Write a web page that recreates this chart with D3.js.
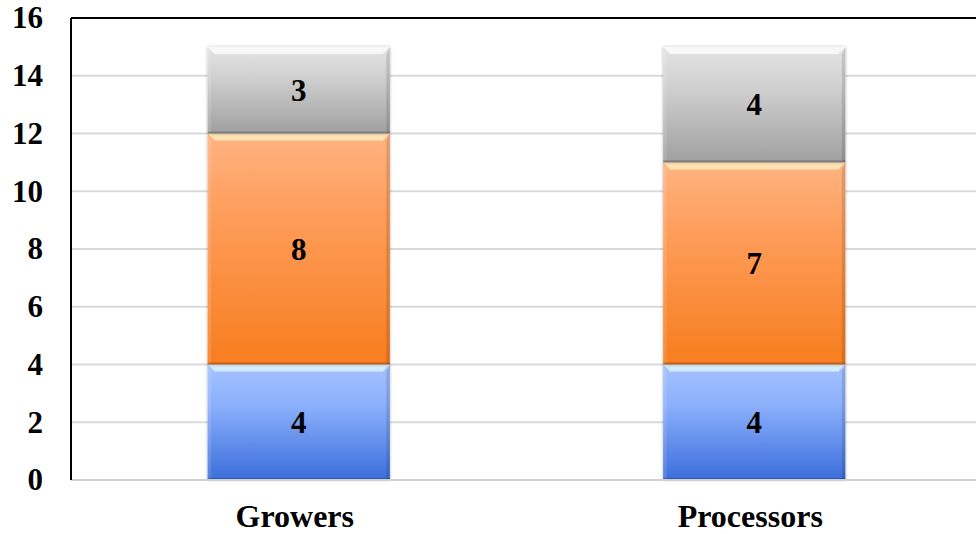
<!DOCTYPE html>
<html>
<head>
<meta charset="utf-8">
<script src="https://cdn.jsdelivr.net/npm/d3@7"></script>
<style>
  html, body { margin: 0; padding: 0; background: #fff; }
  svg { display: block; }
</style>
</head>
<body>
<div id="chart"></div>
<script>
// chart values
var categories = ["Growers", "Processors"];
var seriesNames = ["bottom", "middle", "top"];
var bottomValues = [4, 4];
var middleValues = [8, 7];
var topValues = [3, 4];
var yTicks = [0, 2, 4, 6, 8, 10, 12, 14, 16];

var W = 976, H = 534;
var margin = { top: 18, right: -6, bottom: 54, left: 71 };
var width = W - margin.left - margin.right,
    height = H - margin.top - margin.bottom;

var svg = d3.select("#chart").append("svg").attr("width", W).attr("height", H);
var defs = svg.append("defs");

function serif(sel, size) {
  sel.style("font-family", "Liberation Serif")
    .style("font-weight", "bold").style("font-size", size + "px").attr("fill", "#000");
}

// gradients for the three series: top, mid, bottom colour + bevel highlight
var grads = {
  bottom: ["#a4c2ff", "#8cb0fc", "#3b6edb", "#e4fbff"],
  middle: ["#ffb382", "#fe9d5a", "#f77d1f", "#fff3c4"],
  top: ["#e4e4e4", "#d0d0d0", "#a0a0a0", "#ffffff"]
};
Object.keys(grads).forEach(function (k) {
  var g = defs.append("linearGradient").attr("id", "g-" + k)
    .attr("x1", 0).attr("y1", 0).attr("x2", 0).attr("y2", 1);
  g.append("stop").attr("offset", "0%").attr("stop-color", grads[k][0]);
  g.append("stop").attr("offset", "35%").attr("stop-color", grads[k][1]);
  g.append("stop").attr("offset", "100%").attr("stop-color", grads[k][2]);
});
var shadow = defs.append("filter").attr("id", "shadow")
  .attr("x", "-10%").attr("y", "-10%").attr("width", "120%").attr("height", "120%");
shadow.append("feDropShadow").attr("dx", 0).attr("dy", 0).attr("stdDeviation", 1.5)
  .attr("flood-color", "#000").attr("flood-opacity", 0.3);

var g = svg.append("g").attr("transform", "translate(" + margin.left + "," + margin.top + ")");

var x = d3.scaleBand().domain(categories).range([0, width]).paddingInner(0.6).paddingOuter(0.3);
var y = d3.scaleLinear().domain([0, 16]).range([height, 0]);

// gridlines
g.append("g").selectAll("line").data(yTicks.filter(function (d) { return d > 0 && d < 16; }))
  .enter().append("line")
  .attr("x1", 0).attr("x2", width)
  .attr("y1", function (d) { return y(d); }).attr("y2", function (d) { return y(d); })
  .attr("stroke", "#d9d9d9").attr("stroke-width", 2);

// stacked data
var rows = categories.map(function (c, i) {
  return { cat: c, bottom: bottomValues[i], middle: middleValues[i], top: topValues[i] };
});
var stack = d3.stack().keys(seriesNames)(rows);

stack.forEach(function (layer) {
  var key = layer.key;
  var seg = g.append("g").selectAll("g").data(layer).enter().append("g");
  seg.each(function (d) {
    var el = d3.select(this);
    var x0 = x(d.data.cat), w = x.bandwidth();
    var y0 = y(d[1]), h = y(d[0]) - y(d[1]);
    el.append("rect").attr("x", x0).attr("y", y0).attr("width", w).attr("height", h)
      .attr("fill", "url(#g-" + key + ")").attr("filter", "url(#shadow)");
    var b = 7;
    // bevel highlights
    el.append("polygon")
      .attr("points", [[x0, y0], [x0 + w, y0], [x0 + w - b, y0 + b], [x0 + b, y0 + b]].join(" "))
      .attr("fill", grads[key][3]).attr("opacity", 0.75);
    el.append("polygon")
      .attr("points", [[x0, y0], [x0 + b * 0.5, y0 + b], [x0 + b * 0.5, y0 + h - 2], [x0, y0 + h]].join(" "))
      .attr("fill", "#fff").attr("opacity", 0.12);
    el.append("polygon")
      .attr("points", [[x0 + w, y0], [x0 + w - b * 0.5, y0 + b], [x0 + w - b * 0.5, y0 + h - 2], [x0 + w, y0 + h]].join(" "))
      .attr("fill", "#000").attr("opacity", 0.12);
    el.append("rect").attr("x", x0).attr("y", y0 + h - 2).attr("width", w).attr("height", 2)
      .attr("fill", "#000").attr("opacity", 0.22);
    el.append("text")
      .attr("x", x0 + w / 2).attr("y", y0 + h / 2)
      .attr("text-anchor", "middle").attr("dy", "0.35em")
      .call(serif, 31)
      .text(d[1] - d[0]);
  });
});

// axes
var yAxis = g.append("g").call(d3.axisLeft(y).tickValues(yTicks).tickSize(0).tickPadding(28));
yAxis.attr("font-family", null).attr("font-size", null);
yAxis.select(".domain").remove();
yAxis.selectAll("text").call(serif, 31);

g.append("line").attr("x1", 0).attr("x2", width).attr("y1", height).attr("y2", height)
  .attr("stroke", "#d0d0d0").attr("stroke-width", 2);
g.append("line").attr("x1", 0).attr("x2", 0).attr("y1", 0).attr("y2", height)
  .attr("stroke", "#000").attr("stroke-width", 2);
g.append("line").attr("x1", 0).attr("x2", width).attr("y1", 0).attr("y2", 0)
  .attr("stroke", "#000").attr("stroke-width", 2);

var xAxis = g.append("g").attr("transform", "translate(0," + height + ")")
  .call(d3.axisBottom(x).tickSize(0).tickPadding(24));
xAxis.attr("font-family", null).attr("font-size", null);
xAxis.select(".domain").remove();
xAxis.selectAll("text").call(serif, 32).attr("dx", -4);
</script>
</body>
</html>
